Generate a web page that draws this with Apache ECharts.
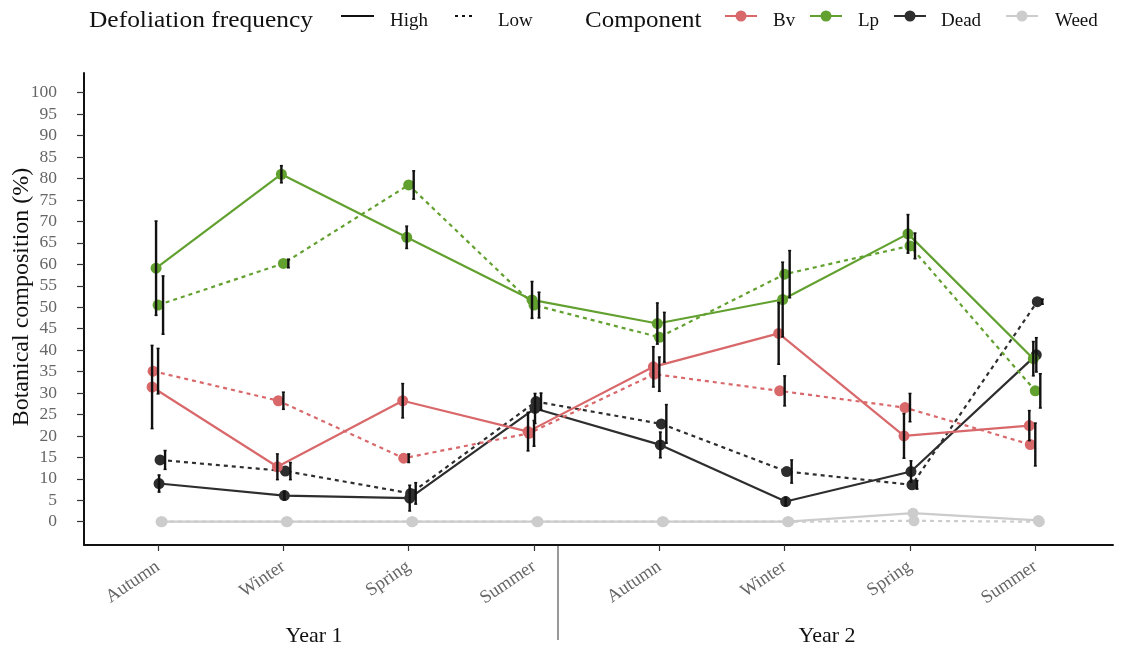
<!DOCTYPE html>
<html><head><meta charset="utf-8">
<script src="https://cdn.jsdelivr.net/npm/echarts@6/dist/echarts.min.js"></script>
<style>html,body{margin:0;padding:0;background:#fff}#c{width:1121px;height:650px}</style>
</head><body><div id="c"></div>
<script>
// ---- data ----
const seasons = ['Autumn','Winter','Spring','Summer','Autumn','Winter','Spring','Summer'];
const yearLabels = ['Year 1','Year 2'];
const yTicks = [0,5,10,15,20,25,30,35,40,45,50,55,60,65,70,75,80,85,90,95,100];

const bvHigh    = [31.4, 12.8, 28.2, 21.0, 36.1, 43.9, 20.0, 22.4];
const bvHighErr = [9.7, 3.0, 4.0, 4.5, 4.7, 7.2, 5.2, 3.5];
const bvLow     = [35.1, 28.2, 14.8, 20.6, 34.4, 30.5, 26.6, 18.0];
const bvLowErr  = [5.3, 2.0, 1.0, 3.0, 4.0, 3.5, 3.3, 5.0];

const lpHigh    = [59.1, 81.0, 66.3, 51.7, 46.2, 51.8, 67.1, 38.0];
const lpHighErr = [11.0, 2.0, 2.6, 4.3, 4.8, 8.7, 4.5, 4.0];
const lpLow     = [50.5, 60.2, 78.5, 50.5, 43.0, 57.7, 64.3, 30.5];
const lpLowErr  = [6.8, 1.0, 3.3, 3.0, 5.8, 5.5, 3.0, 4.0];

const deadHigh    = [8.9, 6.1, 5.5, 26.4, 17.9, 4.7, 11.7, 38.9];
const deadHighErr = [2.0, 1.0, 3.0, 3.5, 3.0, 1.0, 2.5, 4.0];
const deadLow     = [14.4, 11.8, 6.6, 28.0, 22.8, 11.7, 8.6, 51.3];
const deadLowErr  = [2.2, 2.0, 2.5, 2.0, 4.5, 2.7, 1.0, 0.6];

const weedHigh    = [0, 0, 0, 0, 0, 0, 2.0, 0.3];
const weedHighErr = [0, 0, 0, 0, 0, 0, 0, 0];
const weedLow     = [0, 0, 0, 0, 0, 0, 0.2, 0];
const weedLowErr  = [0, 0, 0, 0, 0, 0, 0, 0];

// ---- styling ----
const FONT = '"Liberation Serif", "DejaVu Serif", serif';
const COL = {Bv:'#d9686b', Lp:'#62a02f', Dead:'#2e2e2e', Weed:'#cccccc'};
const PX = 1/125.3; // one pixel in x units
const groups = [
  {comp:'Bv',   freq:'High', v:bvHigh,   e:bvHighErr,   off:-6},
  {comp:'Bv',   freq:'Low',  v:bvLow,    e:bvLowErr,    off:-5},
  {comp:'Lp',   freq:'High', v:lpHigh,   e:lpHighErr,   off:-2},
  {comp:'Lp',   freq:'Low',  v:lpLow,    e:lpLowErr,    off:0},
  {comp:'Dead', freq:'High', v:deadHigh, e:deadHighErr, off:1},
  {comp:'Dead', freq:'Low',  v:deadLow,  e:deadLowErr,  off:2},
  {comp:'Weed', freq:'High', v:weedHigh, e:weedHighErr, off:3},
  {comp:'Weed', freq:'Low',  v:weedLow,  e:weedLowErr,  off:4}
];

const series = [];
const order = ['Weed','Dead','Bv','Lp'];
groups.slice().sort((a,b)=>order.indexOf(a.comp)-order.indexOf(b.comp)).forEach(g=>{
  series.push({
    type:'line', name:g.comp+' '+g.freq,
    data:g.v.map((y,i)=>[i+1+g.off*PX, y]),
    symbol:'circle', symbolSize:11,
    itemStyle:{color:COL[g.comp]},
    lineStyle:{color:COL[g.comp], width:2.2, type: g.freq==='High' ? 'solid' : [4,4]},
    z: 3
  });
});
groups.forEach(g=>{
  const eo = g.freq==='Low' ? 5 : 0;
  series.push({
    type:'custom', name:'err '+g.comp+' '+g.freq,
    data:g.v.map((y,i)=>[i+1+(g.off+eo)*PX, y-g.e[i], y+g.e[i]]).filter(d=>d[2]-d[1]>0.01),
    renderItem:(params, api)=>{
      const x = api.value(0);
      const p1 = api.coord([x, api.value(1)]);
      const p2 = api.coord([x, api.value(2)]);
      return {type:'group', children:[
        {type:'line', shape:{x1:p1[0],y1:p1[1],x2:p2[0],y2:p2[1]}, style:{stroke:'#111', lineWidth:2.4}},
        {type:'line', shape:{x1:p1[0]-1.5,y1:p1[1],x2:p1[0]+1.5,y2:p1[1]}, style:{stroke:'#111', lineWidth:1.5}},
        {type:'line', shape:{x1:p2[0]-1.5,y1:p2[1],x2:p2[0]+1.5,y2:p2[1]}, style:{stroke:'#111', lineWidth:1.5}}
      ]};
    },
    z: 5
  });
});

const tickVals = seasons.map((s,i)=>i+1);

// legend & annotations as graphics
const LY = 21; // legend text middle
const KY = 16; // legend key line
const graphic = [
  {type:'text', x:89, y:LY, scaleX:1.06, style:{text:'Defoliation frequency', font:'24px '+FONT, fill:'#111', verticalAlign:'middle'}},
  {type:'line', shape:{x1:341,y1:KY,x2:374,y2:KY}, style:{stroke:'#111', lineWidth:2}},
  {type:'text', x:390, y:LY, style:{text:'High', font:'19px '+FONT, fill:'#111', verticalAlign:'middle'}},
  {type:'line', shape:{x1:455,y1:KY,x2:476,y2:KY}, style:{stroke:'#111', lineWidth:2, lineDash:[3,4]}},
  {type:'text', x:498, y:LY, style:{text:'Low', font:'19px '+FONT, fill:'#111', verticalAlign:'middle'}},
  {type:'text', x:585, y:LY, scaleX:1.04, style:{text:'Component', font:'24px '+FONT, fill:'#111', verticalAlign:'middle'}}
];
const legComps = [['Bv',725,773],['Lp',810,858],['Dead',894,941],['Weed',1006,1055]];
legComps.forEach(([name,x0,tx])=>{
  graphic.push({type:'line', shape:{x1:x0,y1:KY,x2:x0+32,y2:KY}, style:{stroke:COL[name], lineWidth:2}});
  graphic.push({type:'circle', shape:{cx:x0+16, cy:KY, r:5.5}, style:{fill:COL[name]}});
  graphic.push({type:'text', x:tx, y:LY, style:{text:name, font:'19px '+FONT, fill:'#111', verticalAlign:'middle'}});
});
graphic.push({type:'text', x:22, y:297, rotation:Math.PI/2,
  style:{text:'Botanical composition (%)', font:'24px '+FONT, fill:'#111', align:'center', verticalAlign:'middle'}});
graphic.push({type:'line', shape:{x1:558,y1:545,x2:558,y2:640}, style:{stroke:'#555', lineWidth:1.2}});
graphic.push({type:'text', x:314, y:636, style:{text:yearLabels[0], font:'22px '+FONT, fill:'#111', align:'center', verticalAlign:'middle'}});
graphic.push({type:'text', x:827, y:636, style:{text:yearLabels[1], font:'22px '+FONT, fill:'#111', align:'center', verticalAlign:'middle'}});

const chart = echarts.init(document.getElementById('c'));
chart.setOption({
  animation:false,
  backgroundColor:'#fff',
  grid:{left:84, right:8, top:73, bottom:105},
  xAxis:{
    type:'value', min:0.409, max:8.62,
    axisLine:{show:true, onZero:false, lineStyle:{color:'#111', width:2}},
    axisTick:{show:true, customValues:tickVals, length:6, lineStyle:{color:'#333', width:1.2}},
    axisLabel:{customValues:tickVals, rotate:34, margin:20, color:'#666', fontFamily:FONT, fontSize:18.5,
      formatter:v=>seasons[Math.round(v)-1] || ''},
    splitLine:{show:false}
  },
  yAxis:{
    type:'value', min:-5.43, max:104.6,
    axisLine:{show:true, onZero:false, lineStyle:{color:'#111', width:2}},
    axisTick:{show:true, customValues:yTicks, length:7, lineStyle:{color:'#333', width:1.2}},
    axisLabel:{customValues:yTicks, margin:27, color:'#666', fontFamily:FONT, fontSize:17.5},
    splitLine:{show:false}
  },
  graphic: graphic,
  series: series
});
</script></body></html>
